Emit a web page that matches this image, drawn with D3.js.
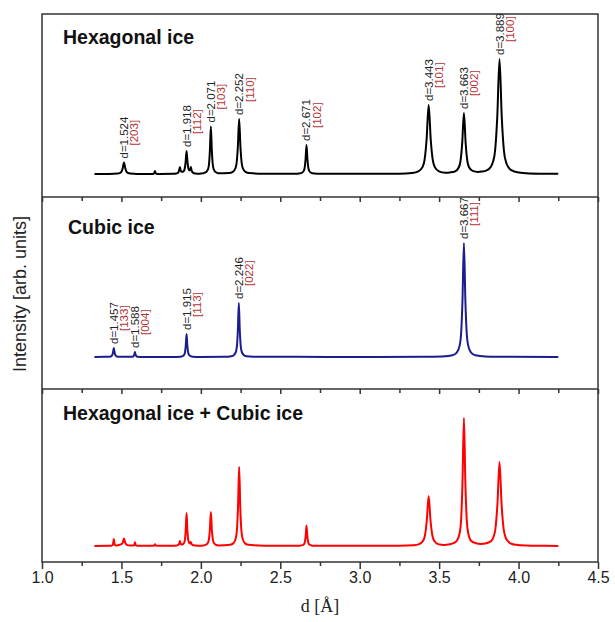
<!DOCTYPE html>
<html>
<head>
<meta charset="utf-8">
<script src="https://cdn.jsdelivr.net/npm/d3@7"></script>
<style>
  body { margin: 0; background: #fff; }
  svg { font-family: "Liberation Sans", Arial, sans-serif; }
</style>
</head>
<body>
<div id="chart"></div>
<script>

// [d, intensity] (intensity in arbitrary units)
var hexData = [
  [1.33,0],[1.42,0.1],
  [1.476,0.45],[1.492,1.15],[1.500,2.3],[1.508,5.8],[1.516,11.5],[1.524,5.8],[1.532,2.3],[1.540,1.15],[1.556,0.45],[1.60,0.1],
  [1.69,0.1],[1.702,0.3],[1.705,0.6],[1.708,1.5],[1.711,3],[1.714,1.5],[1.717,0.6],[1.720,0.3],[1.74,0.1],
  [1.83,0.2],[1.843,0.4],[1.853,0.8],[1.858,1.5],[1.863,3.6],[1.868,7],[1.873,3.6],[1.878,2.2],[1.886,2.2],
  [1.892,2.8],[1.898,5],[1.904,11.8],[1.910,23],[1.916,11.8],[1.922,5.2],[1.928,3.5],[1.933,4.5],[1.937,7],
  [1.941,4.2],[1.945,2.2],[1.952,1.2],[1.965,0.6],[1.99,0.3],
  [2.015,0.7],[2.033,1.9],[2.045,4.7],[2.051,9.5],[2.057,23.8],[2.063,47.5],[2.069,23.8],[2.075,9.5],[2.081,4.7],[2.093,1.9],[2.111,0.7],
  [2.177,0.9],[2.201,2.1],[2.217,5.5],[2.225,11],[2.233,27.5],[2.241,55],[2.249,27.5],[2.257,11],[2.265,5.5],[2.281,2.1],[2.305,0.9],[2.40,0.3],
  [2.60,0.2],[2.617,0.5],[2.635,1.1],[2.647,2.9],[2.653,5.8],[2.659,14.5],[2.665,29],[2.671,14.5],[2.677,5.8],[2.683,2.9],[2.695,1.1],[2.713,0.5],[2.76,0.2],
  [3.25,0.3],[3.33,1.1],[3.369,2.7],[3.395,6.9],[3.408,13.8],[3.421,34.5],[3.434,69],[3.447,34.5],[3.460,13.8],[3.473,6.9],[3.499,2.7],[3.538,1.3],
  [3.568,1.6],[3.601,2.7],[3.623,6.5],[3.634,12.5],[3.645,30.5],[3.656,61],[3.667,30.5],[3.678,12.5],[3.689,6.5],[3.711,3.1],[3.744,2.1],[3.768,2.4],
  [3.796,3.4],[3.824,6.9],[3.838,11.7],[3.852,23],[3.866,57.5],[3.880,115],[3.894,57.5],[3.908,23],[3.922,11.5],[3.936,6.8],[3.964,3.1],[3.992,1.8],
  [4.05,0.8],[4.15,0.3],[4.25,0.15]
];

var cubicData = [
  [1.33,0],[1.40,0.15],
  [1.412,0.2],[1.427,0.35],[1.437,0.9],[1.442,1.8],[1.447,4.5],[1.452,9],[1.457,4.5],[1.462,1.8],[1.467,0.9],[1.477,0.35],[1.492,0.2],
  [1.553,0.15],[1.565,0.2],[1.573,0.5],[1.577,1],[1.581,2.5],[1.585,5],[1.589,2.5],[1.593,1],[1.597,0.5],[1.605,0.2],[1.617,0.1],
  [1.83,0.1],[1.870,0.35],[1.885,0.9],[1.895,2.3],[1.900,4.6],[1.905,11.5],[1.910,23],[1.915,11.5],[1.920,4.6],[1.925,2.3],[1.935,0.9],[1.950,0.35],[1.99,0.1],
  [2.15,0.2],[2.191,0.8],[2.209,2.1],[2.221,5.4],[2.227,10.8],[2.233,27],[2.239,54],[2.245,27],[2.251,10.8],[2.257,5.4],[2.269,2.1],[2.287,0.8],[2.33,0.3],
  [2.8,0.1],[3.4,0.15],
  [3.52,0.6],[3.584,1.8],[3.611,4.4],[3.629,11.4],[3.638,22.8],[3.647,57],[3.656,114],[3.665,57],[3.674,22.8],[3.683,11.4],[3.701,4.4],[3.728,1.8],[3.79,0.6],
  [3.95,0.2],[4.25,0.1]
];

var mixData = [
  [1.33,0],[1.42,0.15],
  [1.437,0.35],[1.443,0.7],[1.446,1.4],[1.449,3.5],[1.452,7],[1.455,3.5],[1.458,1.4],[1.461,0.8],
  [1.467,0.5],[1.481,0.9],[1.495,1.6],[1.502,2],[1.509,3.8],[1.516,7.5],[1.523,3.8],[1.530,1.6],[1.537,0.9],[1.551,0.5],
  [1.576,0.5],[1.579,0.8],[1.582,1.9],[1.585,3.8],[1.588,1.9],[1.591,0.8],[1.60,0.3],[1.65,0.15],
  [1.69,0.15],[1.705,0.4],[1.708,0.9],[1.711,1.8],[1.714,0.9],[1.717,0.4],[1.74,0.15],
  [1.82,0.2],[1.848,0.5],[1.856,1],[1.860,1.5],[1.864,2.5],[1.868,5],[1.872,2.5],[1.876,1.5],[1.882,1.6],[1.890,2.3],
  [1.896,3.7],[1.900,6.6],[1.905,16.5],[1.910,33],[1.915,16.5],[1.920,6.6],[1.925,3.6],[1.930,2.7],[1.934,2.6],[1.937,4],
  [1.940,2.4],[1.945,1.4],[1.955,0.8],[1.97,0.5],[1.99,0.3],
  [2.015,0.5],[2.033,1.3],[2.045,3.4],[2.051,6.8],[2.057,17],[2.063,34],[2.069,17],[2.075,6.8],[2.081,3.4],[2.093,1.3],[2.111,0.5],
  [2.185,1.2],[2.206,3],[2.220,7.9],[2.227,15.8],[2.234,39.5],[2.241,79],[2.248,39.5],[2.255,15.8],[2.262,7.9],[2.276,3],[2.297,1.2],[2.40,0.3],
  [2.60,0.15],[2.625,0.3],[2.640,0.8],[2.650,2],[2.655,4.1],[2.660,10.3],[2.665,20.5],[2.670,10.3],[2.675,4.1],[2.680,2],[2.690,0.8],[2.705,0.3],[2.76,0.15],
  [3.25,0.3],[3.338,0.8],[3.374,1.9],[3.398,5],[3.410,10],[3.422,25],[3.434,50],[3.446,25],[3.458,10],[3.470,5],[3.494,1.9],[3.530,1.1],
  [3.566,1.7],[3.593,3.1],[3.611,5.3],[3.629,12.8],[3.638,25.6],[3.647,64],[3.656,128],[3.665,64],[3.674,25.6],[3.683,12.8],[3.701,5.3],[3.728,3],[3.764,2.1],
  [3.79,2.5],[3.828,5],[3.841,8.6],[3.854,17],[3.867,42],[3.880,84],[3.893,42],[3.906,17],[3.919,8.4],[3.932,5],[3.958,2],[3.984,1.2],
  [4.05,0.5],[4.15,0.2],[4.25,0.1]
];

// peak labels: [d at peak, peak height, d label, hkl]
var hexLabels = [
  [1.516, 11.5, "d=1.524", "[203]"],
  [1.910, 23, "d=1.918", "[112]"],
  [2.063, 47.5, "d=2.071", "[103]"],
  [2.241, 55, "d=2.252", "[110]"],
  [2.665, 29, "d=2.671", "[102]"],
  [3.434, 69, "d=3.443", "[101]"],
  [3.656, 61, "d=3.663", "[002]"],
  [3.880, 115, "d=3.889", "[100]"]
];

var cubicLabels = [
  [1.452, 9, "d=1.457", "[133]"],
  [1.585, 5, "d=1.588", "[004]"],
  [1.910, 23, "d=1.915", "[113]"],
  [2.239, 54, "d=2.246", "[022]"],
  [3.656, 114, "d=3.667", "[111]"]
];

var majorTicks = [1.0, 1.5, 2.0, 2.5, 3.0, 3.5, 4.0, 4.5];
var minorTicks = [1.25, 1.75, 2.25, 2.75, 3.25, 3.75, 4.25];

var panelTitles = ["Hexagonal ice", "Cubic ice", "Hexagonal ice + Cubic ice"];
var lineColors = ["#000000", "#1c1c8f", "#ff0000"];

var width = 615, height = 622;
var left = 42, right = 598;

var svg = d3.select("#chart").append("svg")
    .attr("width", width)
    .attr("height", height);

var x = d3.scaleLinear().domain([1.0, 4.5]).range([left, right]);

// each panel: pixel top/bottom and the intensity range it shows
var panels = [
  {top: 14, bottom: 197, lo: -23, hi: 160, data: hexData, labels: hexLabels, tx: 63, ty: 30},
  {top: 197, bottom: 389, lo: -32, hi: 160, data: cubicData, labels: cubicLabels, tx: 68, ty: 37},
  {top: 389, bottom: 562, lo: -16, hi: 157, data: mixData, labels: [], tx: 63, ty: 31}
];

panels.forEach(function(p, i) {
  var y = d3.scaleLinear().domain([p.lo, p.hi]).range([p.bottom, p.top]);

  var line = d3.line()
      .x(function(d) { return x(d[0]); })
      .y(function(d) { return y(d[1]); })
      .curve(d3.curveMonotoneX);

  svg.append("path")
      .datum(p.data)
      .attr("d", line)
      .attr("fill", "none")
      .attr("stroke", lineColors[i])
      .attr("stroke-width", 2)
      .attr("stroke-linejoin", "round");

  svg.append("text")
      .attr("x", p.tx)
      .attr("y", p.top + p.ty)
      .attr("font-size", "19.5px")
      .attr("font-weight", "bold")
      .attr("fill", "#111")
      .text(panelTitles[i]);

  p.labels.forEach(function(l) {
    var px = x(l[0]), py = y(l[1]);
    svg.append("text")
        .attr("transform", "translate(" + (px + 4) + "," + (py - 4) + ") rotate(-90)")
        .attr("font-size", "11.5px")
        .attr("fill", "#222")
        .text(l[2]);
    svg.append("text")
        .attr("transform", "translate(" + (px + 14.5) + "," + (py - 17) + ") rotate(-90)")
        .attr("font-size", "11.5px")
        .attr("fill", "#b53333")
        .text(l[3]);
  });

  // ticks on the bottom edge of each panel
  var last = i == panels.length - 1;
  var major = d3.axisBottom(x)
      .tickValues(majorTicks)
      .tickSize(last ? 7 : 5)
      .tickPadding(3)
      .tickFormat(last ? d3.format(".1f") : "");
  var gMajor = svg.append("g")
      .attr("transform", "translate(0," + p.bottom + ")")
      .call(major);
  gMajor.select(".domain").remove();
  gMajor.selectAll("line").attr("stroke", "#333").attr("stroke-width", 1.5);
  gMajor.selectAll("text")
      .attr("font-size", "16px")
      .attr("fill", "#222")
      .style("font-family", "Liberation Sans, Arial, sans-serif");

  var minor = d3.axisBottom(x)
      .tickValues(minorTicks)
      .tickSize(4)
      .tickFormat("");
  var gMinor = svg.append("g")
      .attr("transform", "translate(0," + p.bottom + ")")
      .call(minor);
  gMinor.select(".domain").remove();
  gMinor.selectAll("line").attr("stroke", "#333").attr("stroke-width", 1.5);

  if (!last) {
    svg.append("line")
        .attr("x1", left).attr("x2", right)
        .attr("y1", p.bottom).attr("y2", p.bottom)
        .attr("stroke", "#333")
        .attr("stroke-width", 1.5);
  }
});

// outer frame
svg.append("rect")
    .attr("x", left)
    .attr("y", panels[0].top)
    .attr("width", right - left)
    .attr("height", panels[2].bottom - panels[0].top)
    .attr("fill", "none")
    .attr("stroke", "#333")
    .attr("stroke-width", 1.5);

svg.append("text")
    .attr("x", (left + right) / 2)
    .attr("y", 612)
    .attr("text-anchor", "middle")
    .attr("font-family", "Liberation Serif, Times New Roman, serif")
    .attr("font-size", "18px")
    .attr("fill", "#222")
    .text("d [Å]");

svg.append("text")
    .attr("transform", "translate(26," + ((panels[0].top + panels[2].bottom) / 2 + 6) + ") rotate(-90)")
    .attr("text-anchor", "middle")
    .attr("font-size", "18px")
    .attr("fill", "#222")
    .text("Intensity [arb. units]");

</script>
</body>
</html>
